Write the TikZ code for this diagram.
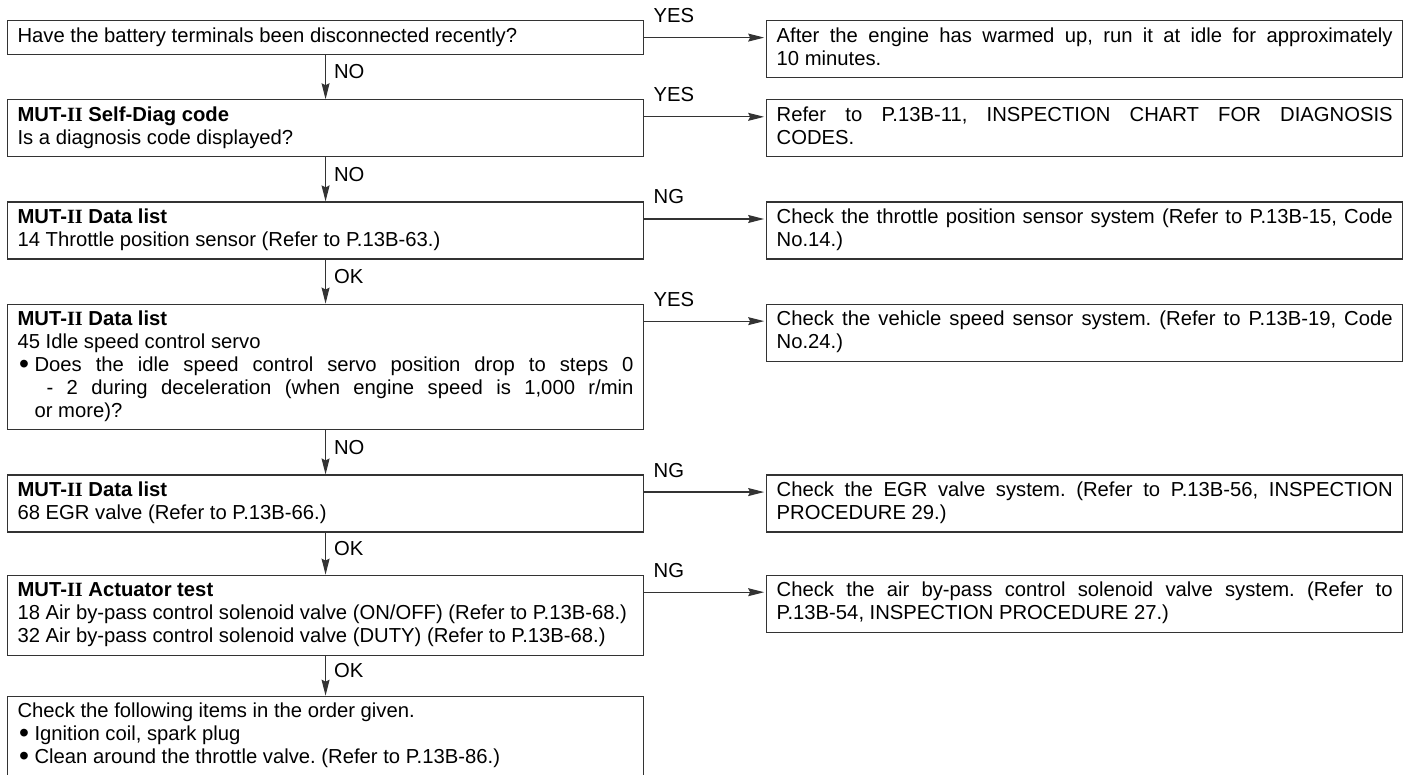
\documentclass[tikz,border=0pt]{standalone}
\usepackage{fontspec}
\setmainfont{Liberation Sans}
\newfontfamily\romfont{Liberation Serif}
\usetikzlibrary{positioning,arrows.meta}

\newcommand{\mut}{MUT-{\romfont II}}
\newcommand{\bul}[1]{\par\noindent\makebox[0.425cm][l]{\hspace{0.04cm}\raisebox{-0.15ex}{\scalebox{1.4}{\textbullet}}}%
  \parbox[t]{\dimexpr\hsize-0.425cm\relax}{\frenchspacing\strut#1\strut}}

\tikzset{
  box/.style={draw=black!80, line width=0.8pt, text width=15.4cm, inner xsep=0.25cm, inner ysep=0.14cm,
    align=justify, anchor=north west, font=\fontsize{14.4}{16.3}\selectfont,
    execute at begin node={\frenchspacing\setlength\parindent{0pt}\strut}, execute at end node=\strut},
  flow/.style={-{Stealth[length=0.4cm,width=0.2cm,inset=0.05cm]}, draw=black!80, line width=0.8pt},
  lbl/.style={font=\fontsize{14.4}{16.3}\selectfont, inner sep=0}
}

\begin{document}
\begin{tikzpicture}
  \useasboundingbox (0,0) rectangle (35.175,-19.375);
  % question boxes (left column)
  \node[box] (q1) at (0.175,-0.5) {Have the battery terminals been disconnected recently?};
  \node[box, below=1.1cm of q1] (q2) {\textbf{\mut\ Self-Diag code}\par Is a diagnosis code displayed?};
  \node[box, below=1.1cm of q2] (q3) {\textbf{\mut\ Data list}\par 14 Throttle position sensor (Refer to P.13B-63.)};
  \node[box, below=1.1cm of q3] (q4) {\textbf{\mut\ Data list}\par 45 Idle speed control servo
    \bul{Does the idle speed control servo position drop to steps 0\linebreak
    \hspace*{0.3cm}- 2 during deceleration (when engine speed is 1,000 r/min\linebreak or more)?}};
  \node[box, below=1.1cm of q4] (q5) {\textbf{\mut\ Data list}\par 68 EGR valve (Refer to P.13B-66.)};
  \node[box, below=1.05cm of q5] (q6) {\textbf{\mut\ Actuator test}\par
    18 Air by-pass control solenoid valve (ON/OFF) (Refer to P.13B-68.)\par
    32 Air by-pass control solenoid valve (DUTY) (Refer to P.13B-68.)};
  \node[box, below=1.0cm of q6] (q7) {Check the following items in the order given.
    \bul{Ignition coil, spark plug}
    \bul{Clean around the throttle valve. (Refer to P.13B-86.)}};
  % result boxes (right column)
  \node[box, right=3.05cm of q1.north east, anchor=north west] (r1) {After the engine has warmed up, run it at idle for approximately\linebreak 10 minutes.};
  \node[box, right=3.05cm of q2.north east, anchor=north west] (r2) {Refer to P.13B-11, INSPECTION CHART FOR DIAGNOSIS\linebreak CODES.};
  \node[box, right=3.05cm of q3.north east, anchor=north west] (r3) {Check the throttle position sensor system (Refer to P.13B-15, Code\linebreak No.14.)};
  \node[box, right=3.05cm of q4.north east, anchor=north west] (r4) {Check the vehicle speed sensor system. (Refer to P.13B-19, Code\linebreak No.24.)};
  \node[box, right=3.05cm of q5.north east, anchor=north west] (r5) {Check the EGR valve system. (Refer to P.13B-56, INSPECTION\linebreak PROCEDURE 29.)};
  \node[box, right=3.05cm of q6.north east, anchor=north west] (r6) {Check the air by-pass control solenoid valve system. (Refer to\linebreak P.13B-54, INSPECTION PROCEDURE 27.)};
  % downward arrows
  \draw[flow] (q1) -- (q2) node[lbl, pos=0.38, anchor=west, xshift=0.2cm] {NO};
  \draw[flow] (q2) -- (q3) node[lbl, pos=0.38, anchor=west, xshift=0.2cm] {NO};
  \draw[flow] (q3) -- (q4) node[lbl, pos=0.38, anchor=west, xshift=0.2cm] {OK};
  \draw[flow] (q4) -- (q5) node[lbl, pos=0.38, anchor=west, xshift=0.2cm] {NO};
  \draw[flow] (q5) -- (q6) node[lbl, pos=0.38, anchor=west, xshift=0.2cm] {OK};
  \draw[flow] (q6) -- (q7) node[lbl, pos=0.38, anchor=west, xshift=0.2cm] {OK};
  % side arrows
  \draw[flow, shorten >=0.05cm] ([yshift=-0.44cm]q1.north east) -- ([yshift=-0.44cm]r1.north west) node[lbl, pos=0, anchor=base west, xshift=0.225cm, yshift=0.375cm] {YES};
  \draw[flow, shorten >=0.05cm] ([yshift=-0.44cm]q2.north east) -- ([yshift=-0.44cm]r2.north west) node[lbl, pos=0, anchor=base west, xshift=0.225cm, yshift=0.375cm] {YES};
  \draw[flow, shorten >=0.05cm] ([yshift=-0.44cm]q3.north east) -- ([yshift=-0.44cm]r3.north west) node[lbl, pos=0, anchor=base west, xshift=0.225cm, yshift=0.375cm] {NG};
  \draw[flow, shorten >=0.05cm] ([yshift=-0.44cm]q4.north east) -- ([yshift=-0.44cm]r4.north west) node[lbl, pos=0, anchor=base west, xshift=0.225cm, yshift=0.375cm] {YES};
  \draw[flow, shorten >=0.05cm] ([yshift=-0.44cm]q5.north east) -- ([yshift=-0.44cm]r5.north west) node[lbl, pos=0, anchor=base west, xshift=0.225cm, yshift=0.375cm] {NG};
  \draw[flow, shorten >=0.05cm] ([yshift=-0.44cm]q6.north east) -- ([yshift=-0.44cm]r6.north west) node[lbl, pos=0, anchor=base west, xshift=0.225cm, yshift=0.375cm] {NG};
\end{tikzpicture}
\end{document}
